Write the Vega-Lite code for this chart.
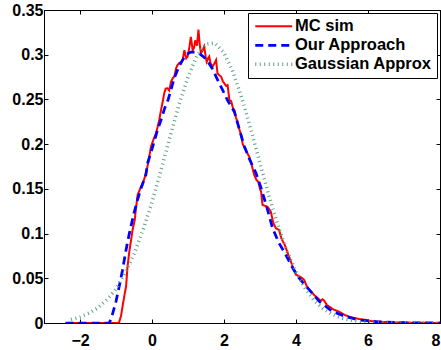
{
  "$schema": "https://vega.github.io/schema/vega-lite/v6.json",
  "width": 396,
  "height": 313,
  "autosize": {"type": "none"},
  "padding": {"left": 44, "top": 10, "right": 1, "bottom": 27},
  "background": "white",
  "config": {
    "view": {"stroke": "black", "strokeWidth": 1},
    "axis": {
      "grid": false,
      "domainColor": "black",
      "tickColor": "black",
      "labelColor": "black",
      "labelFont": "Liberation Sans",
      "labelFontWeight": "bold",
      "labelFontSize": 16,
      "tickSize": -4,
      "title": null
    },
    "legend": {
      "orient": "top-right",
      "offset": 3,
      "strokeColor": "black",
      "fillColor": "white",
      "padding": 5,
      "labelFont": "Liberation Sans",
      "labelFontWeight": "bold",
      "labelFontSize": 16.5,
      "labelColor": "black",
      "symbolType": "M-3.7,0H3.7",
      "symbolSize": 100,
      "symbolOffset": 12.5,
      "labelOffset": 13,
      "rowPadding": 2,
      "title": null
    }
  },
  "data": {
    "values": [
      {"x": -2.4, "y": 0, "series": "MC sim"},
      {"x": -0.92, "y": 0, "series": "MC sim"},
      {"x": -0.86, "y": 0.008, "series": "MC sim"},
      {"x": -0.82, "y": 0.018, "series": "MC sim"},
      {"x": -0.77, "y": 0.03, "series": "MC sim"},
      {"x": -0.72, "y": 0.041, "series": "MC sim"},
      {"x": -0.68, "y": 0.063, "series": "MC sim"},
      {"x": -0.63, "y": 0.08, "series": "MC sim"},
      {"x": -0.58, "y": 0.093, "series": "MC sim"},
      {"x": -0.54, "y": 0.104, "series": "MC sim"},
      {"x": -0.48, "y": 0.115, "series": "MC sim"},
      {"x": -0.44, "y": 0.13, "series": "MC sim"},
      {"x": -0.4, "y": 0.143, "series": "MC sim"},
      {"x": -0.35, "y": 0.148, "series": "MC sim"},
      {"x": -0.31, "y": 0.152, "series": "MC sim"},
      {"x": -0.24, "y": 0.158, "series": "MC sim"},
      {"x": -0.17, "y": 0.167, "series": "MC sim"},
      {"x": -0.1, "y": 0.18, "series": "MC sim"},
      {"x": -0.03, "y": 0.197, "series": "MC sim"},
      {"x": 0.04, "y": 0.205, "series": "MC sim"},
      {"x": 0.11, "y": 0.212, "series": "MC sim"},
      {"x": 0.16, "y": 0.22, "series": "MC sim"},
      {"x": 0.2, "y": 0.227, "series": "MC sim"},
      {"x": 0.25, "y": 0.238, "series": "MC sim"},
      {"x": 0.3, "y": 0.248, "series": "MC sim"},
      {"x": 0.34, "y": 0.257, "series": "MC sim"},
      {"x": 0.38, "y": 0.262, "series": "MC sim"},
      {"x": 0.43, "y": 0.2625, "series": "MC sim"},
      {"x": 0.48, "y": 0.26, "series": "MC sim"},
      {"x": 0.53, "y": 0.27, "series": "MC sim"},
      {"x": 0.58, "y": 0.274, "series": "MC sim"},
      {"x": 0.62, "y": 0.2755, "series": "MC sim"},
      {"x": 0.67, "y": 0.285, "series": "MC sim"},
      {"x": 0.71, "y": 0.2885, "series": "MC sim"},
      {"x": 0.76, "y": 0.291, "series": "MC sim"},
      {"x": 0.8, "y": 0.29, "series": "MC sim"},
      {"x": 0.85, "y": 0.294, "series": "MC sim"},
      {"x": 0.9, "y": 0.305, "series": "MC sim"},
      {"x": 0.95, "y": 0.296, "series": "MC sim"},
      {"x": 0.99, "y": 0.298, "series": "MC sim"},
      {"x": 1.04, "y": 0.309, "series": "MC sim"},
      {"x": 1.08, "y": 0.32, "series": "MC sim"},
      {"x": 1.13, "y": 0.305, "series": "MC sim"},
      {"x": 1.17, "y": 0.308, "series": "MC sim"},
      {"x": 1.2, "y": 0.316, "series": "MC sim"},
      {"x": 1.25, "y": 0.31, "series": "MC sim"},
      {"x": 1.29, "y": 0.328, "series": "MC sim"},
      {"x": 1.33, "y": 0.31, "series": "MC sim"},
      {"x": 1.36, "y": 0.3016, "series": "MC sim"},
      {"x": 1.41, "y": 0.305, "series": "MC sim"},
      {"x": 1.45, "y": 0.309, "series": "MC sim"},
      {"x": 1.49, "y": 0.298, "series": "MC sim"},
      {"x": 1.52, "y": 0.292, "series": "MC sim"},
      {"x": 1.56, "y": 0.296, "series": "MC sim"},
      {"x": 1.59, "y": 0.298, "series": "MC sim"},
      {"x": 1.63, "y": 0.29, "series": "MC sim"},
      {"x": 1.68, "y": 0.2866, "series": "MC sim"},
      {"x": 1.73, "y": 0.29, "series": "MC sim"},
      {"x": 1.78, "y": 0.294, "series": "MC sim"},
      {"x": 1.82, "y": 0.279, "series": "MC sim"},
      {"x": 1.87, "y": 0.277, "series": "MC sim"},
      {"x": 1.92, "y": 0.2755, "series": "MC sim"},
      {"x": 1.97, "y": 0.27, "series": "MC sim"},
      {"x": 2.01, "y": 0.268, "series": "MC sim"},
      {"x": 2.06, "y": 0.265, "series": "MC sim"},
      {"x": 2.1, "y": 0.266, "series": "MC sim"},
      {"x": 2.15, "y": 0.2494, "series": "MC sim"},
      {"x": 2.2, "y": 0.248, "series": "MC sim"},
      {"x": 2.25, "y": 0.24, "series": "MC sim"},
      {"x": 2.29, "y": 0.238, "series": "MC sim"},
      {"x": 2.33, "y": 0.23, "series": "MC sim"},
      {"x": 2.38, "y": 0.224, "series": "MC sim"},
      {"x": 2.43, "y": 0.216, "series": "MC sim"},
      {"x": 2.48, "y": 0.21, "series": "MC sim"},
      {"x": 2.52, "y": 0.2, "series": "MC sim"},
      {"x": 2.56, "y": 0.197, "series": "MC sim"},
      {"x": 2.62, "y": 0.192, "series": "MC sim"},
      {"x": 2.7, "y": 0.186, "series": "MC sim"},
      {"x": 2.76, "y": 0.178, "series": "MC sim"},
      {"x": 2.84, "y": 0.1655, "series": "MC sim"},
      {"x": 2.9, "y": 0.16, "series": "MC sim"},
      {"x": 2.95, "y": 0.158, "series": "MC sim"},
      {"x": 3.0, "y": 0.15, "series": "MC sim"},
      {"x": 3.03, "y": 0.147, "series": "MC sim"},
      {"x": 3.07, "y": 0.132, "series": "MC sim"},
      {"x": 3.14, "y": 0.131, "series": "MC sim"},
      {"x": 3.21, "y": 0.13, "series": "MC sim"},
      {"x": 3.3, "y": 0.1245, "series": "MC sim"},
      {"x": 3.37, "y": 0.112, "series": "MC sim"},
      {"x": 3.44, "y": 0.106, "series": "MC sim"},
      {"x": 3.53, "y": 0.104, "series": "MC sim"},
      {"x": 3.6, "y": 0.094, "series": "MC sim"},
      {"x": 3.69, "y": 0.087, "series": "MC sim"},
      {"x": 3.78, "y": 0.077, "series": "MC sim"},
      {"x": 3.86, "y": 0.0686, "series": "MC sim"},
      {"x": 3.93, "y": 0.06, "series": "MC sim"},
      {"x": 4.0, "y": 0.054, "series": "MC sim"},
      {"x": 4.1, "y": 0.052, "series": "MC sim"},
      {"x": 4.18, "y": 0.05, "series": "MC sim"},
      {"x": 4.23, "y": 0.048, "series": "MC sim"},
      {"x": 4.3, "y": 0.041, "series": "MC sim"},
      {"x": 4.37, "y": 0.037, "series": "MC sim"},
      {"x": 4.45, "y": 0.034, "series": "MC sim"},
      {"x": 4.51, "y": 0.031, "series": "MC sim"},
      {"x": 4.6, "y": 0.028, "series": "MC sim"},
      {"x": 4.68, "y": 0.025, "series": "MC sim"},
      {"x": 4.74, "y": 0.0265, "series": "MC sim"},
      {"x": 4.79, "y": 0.0246, "series": "MC sim"},
      {"x": 4.86, "y": 0.02, "series": "MC sim"},
      {"x": 4.93, "y": 0.0182, "series": "MC sim"},
      {"x": 5.05, "y": 0.015, "series": "MC sim"},
      {"x": 5.2, "y": 0.0126, "series": "MC sim"},
      {"x": 5.35, "y": 0.009, "series": "MC sim"},
      {"x": 5.45, "y": 0.0075, "series": "MC sim"},
      {"x": 5.57, "y": 0.006, "series": "MC sim"},
      {"x": 5.75, "y": 0.0045, "series": "MC sim"},
      {"x": 5.94, "y": 0.0034, "series": "MC sim"},
      {"x": 6.1, "y": 0.002, "series": "MC sim"},
      {"x": 6.3, "y": 0.0015, "series": "MC sim"},
      {"x": 6.6, "y": 0.0008, "series": "MC sim"},
      {"x": 7.0, "y": 0.0005, "series": "MC sim"},
      {"x": 7.5, "y": 0.0002, "series": "MC sim"},
      {"x": 8.0, "y": 0.0, "series": "MC sim"},
      {"x": -2.4, "y": 0, "series": "Our Approach"},
      {"x": -1.19, "y": 0, "series": "Our Approach"},
      {"x": -1.14, "y": 0.004, "series": "Our Approach"},
      {"x": -1.09, "y": 0.011, "series": "Our Approach"},
      {"x": -1.0, "y": 0.024, "series": "Our Approach"},
      {"x": -0.91, "y": 0.041, "series": "Our Approach"},
      {"x": -0.82, "y": 0.059, "series": "Our Approach"},
      {"x": -0.72, "y": 0.082, "series": "Our Approach"},
      {"x": -0.63, "y": 0.1, "series": "Our Approach"},
      {"x": -0.5, "y": 0.123, "series": "Our Approach"},
      {"x": -0.4, "y": 0.138, "series": "Our Approach"},
      {"x": -0.31, "y": 0.15, "series": "Our Approach"},
      {"x": -0.17, "y": 0.166, "series": "Our Approach"},
      {"x": -0.12, "y": 0.179, "series": "Our Approach"},
      {"x": 0.04, "y": 0.2, "series": "Our Approach"},
      {"x": 0.14, "y": 0.214, "series": "Our Approach"},
      {"x": 0.25, "y": 0.227, "series": "Our Approach"},
      {"x": 0.35, "y": 0.24, "series": "Our Approach"},
      {"x": 0.45, "y": 0.25, "series": "Our Approach"},
      {"x": 0.55, "y": 0.264, "series": "Our Approach"},
      {"x": 0.62, "y": 0.274, "series": "Our Approach"},
      {"x": 0.76, "y": 0.288, "series": "Our Approach"},
      {"x": 0.94, "y": 0.3, "series": "Our Approach"},
      {"x": 1.08, "y": 0.303, "series": "Our Approach"},
      {"x": 1.2, "y": 0.303, "series": "Our Approach"},
      {"x": 1.31, "y": 0.3016, "series": "Our Approach"},
      {"x": 1.45, "y": 0.297, "series": "Our Approach"},
      {"x": 1.59, "y": 0.29, "series": "Our Approach"},
      {"x": 1.7, "y": 0.283, "series": "Our Approach"},
      {"x": 1.78, "y": 0.2755, "series": "Our Approach"},
      {"x": 1.96, "y": 0.2606, "series": "Our Approach"},
      {"x": 2.1, "y": 0.249, "series": "Our Approach"},
      {"x": 2.29, "y": 0.236, "series": "Our Approach"},
      {"x": 2.43, "y": 0.216, "series": "Our Approach"},
      {"x": 2.56, "y": 0.198, "series": "Our Approach"},
      {"x": 2.7, "y": 0.184, "series": "Our Approach"},
      {"x": 2.89, "y": 0.1674, "series": "Our Approach"},
      {"x": 3.03, "y": 0.151, "series": "Our Approach"},
      {"x": 3.2, "y": 0.128, "series": "Our Approach"},
      {"x": 3.35, "y": 0.106, "series": "Our Approach"},
      {"x": 3.52, "y": 0.09, "series": "Our Approach"},
      {"x": 3.72, "y": 0.076, "series": "Our Approach"},
      {"x": 3.9, "y": 0.062, "series": "Our Approach"},
      {"x": 4.09, "y": 0.05, "series": "Our Approach"},
      {"x": 4.37, "y": 0.037, "series": "Our Approach"},
      {"x": 4.65, "y": 0.024, "series": "Our Approach"},
      {"x": 5.02, "y": 0.0126, "series": "Our Approach"},
      {"x": 5.39, "y": 0.007, "series": "Our Approach"},
      {"x": 5.76, "y": 0.0034, "series": "Our Approach"},
      {"x": 6.22, "y": 0.0015, "series": "Our Approach"},
      {"x": 7.0, "y": 0.0003, "series": "Our Approach"},
      {"x": 8.0, "y": 0, "series": "Our Approach"},
      {"x": -2.25, "y": 0.004, "series": "Gaussian Approx"},
      {"x": -2.0, "y": 0.0065, "series": "Gaussian Approx"},
      {"x": -1.75, "y": 0.011, "series": "Gaussian Approx"},
      {"x": -1.5, "y": 0.017, "series": "Gaussian Approx"},
      {"x": -1.25, "y": 0.026, "series": "Gaussian Approx"},
      {"x": -1.0, "y": 0.038, "series": "Gaussian Approx"},
      {"x": -0.75, "y": 0.056, "series": "Gaussian Approx"},
      {"x": -0.5, "y": 0.077, "series": "Gaussian Approx"},
      {"x": -0.25, "y": 0.104, "series": "Gaussian Approx"},
      {"x": 0.0, "y": 0.135, "series": "Gaussian Approx"},
      {"x": 0.25, "y": 0.171, "series": "Gaussian Approx"},
      {"x": 0.5, "y": 0.208, "series": "Gaussian Approx"},
      {"x": 0.75, "y": 0.244, "series": "Gaussian Approx"},
      {"x": 1.0, "y": 0.275, "series": "Gaussian Approx"},
      {"x": 1.25, "y": 0.299, "series": "Gaussian Approx"},
      {"x": 1.5, "y": 0.312, "series": "Gaussian Approx"},
      {"x": 1.75, "y": 0.313, "series": "Gaussian Approx"},
      {"x": 2.0, "y": 0.302, "series": "Gaussian Approx"},
      {"x": 2.25, "y": 0.281, "series": "Gaussian Approx"},
      {"x": 2.5, "y": 0.251, "series": "Gaussian Approx"},
      {"x": 2.75, "y": 0.216, "series": "Gaussian Approx"},
      {"x": 3.0, "y": 0.1785, "series": "Gaussian Approx"},
      {"x": 3.25, "y": 0.142, "series": "Gaussian Approx"},
      {"x": 3.5, "y": 0.109, "series": "Gaussian Approx"},
      {"x": 3.75, "y": 0.08, "series": "Gaussian Approx"},
      {"x": 4.0, "y": 0.057, "series": "Gaussian Approx"},
      {"x": 4.25, "y": 0.039, "series": "Gaussian Approx"},
      {"x": 4.5, "y": 0.0253, "series": "Gaussian Approx"},
      {"x": 4.75, "y": 0.016, "series": "Gaussian Approx"},
      {"x": 5.0, "y": 0.0097, "series": "Gaussian Approx"},
      {"x": 5.25, "y": 0.0057, "series": "Gaussian Approx"},
      {"x": 5.5, "y": 0.0032, "series": "Gaussian Approx"},
      {"x": 5.75, "y": 0.0017, "series": "Gaussian Approx"},
      {"x": 6.0, "y": 0.0009, "series": "Gaussian Approx"},
      {"x": 6.5, "y": 0.0002, "series": "Gaussian Approx"},
      {"x": 7.0, "y": 0.00003, "series": "Gaussian Approx"},
      {"x": 8.0, "y": 0, "series": "Gaussian Approx"}
    ]
  },
  "layer": [
    {
      "mark": {"type": "line", "clip": true},
      "encoding": {
        "x": {"field": "x", "type": "quantitative", "scale": {"domain": [-3, 8], "nice": false, "zero": false},
              "axis": {"orient": "bottom", "values": [-2, 0, 2, 4, 6, 8], "labelPadding": 13}},
        "y": {"field": "y", "type": "quantitative", "scale": {"domain": [0, 0.35], "nice": false},
              "axis": {"orient": "left", "values": [0, 0.05, 0.1, 0.15, 0.2, 0.25, 0.3, 0.35], "format": "~g", "labelPadding": 5}},
        "color": {"field": "series", "type": "nominal",
                  "scale": {"domain": ["MC sim", "Our Approach", "Gaussian Approx"], "range": ["#ff0000", "#0000ff", "#5f9f85"]}},
        "strokeDash": {"field": "series", "type": "nominal",
                  "scale": {"domain": ["MC sim", "Our Approach", "Gaussian Approx"], "range": [[1, 0], [8, 5], [1, 3.5]]}},
        "strokeWidth": {"field": "series", "type": "nominal",
                  "scale": {"domain": ["MC sim", "Our Approach", "Gaussian Approx"], "range": [2, 3.5, 2]}},
        "order": {"field": "x", "type": "quantitative"}
      }
    },
    {
      "mark": {"type": "line", "opacity": 0},
      "encoding": {
        "x": {"field": "x", "type": "quantitative", "scale": {"domain": [-3, 8], "nice": false, "zero": false},
              "axis": {"orient": "top", "values": [-2, 0, 2, 4, 6, 8], "labels": false}},
        "y": {"field": "y", "type": "quantitative", "scale": {"domain": [0, 0.35], "nice": false},
              "axis": {"orient": "right", "values": [0, 0.05, 0.1, 0.15, 0.2, 0.25, 0.3, 0.35], "labels": false}},
        "detail": {"field": "series", "type": "nominal"}
      }
    }
  ],
  "resolve": {"axis": {"x": "independent", "y": "independent"}}
}
